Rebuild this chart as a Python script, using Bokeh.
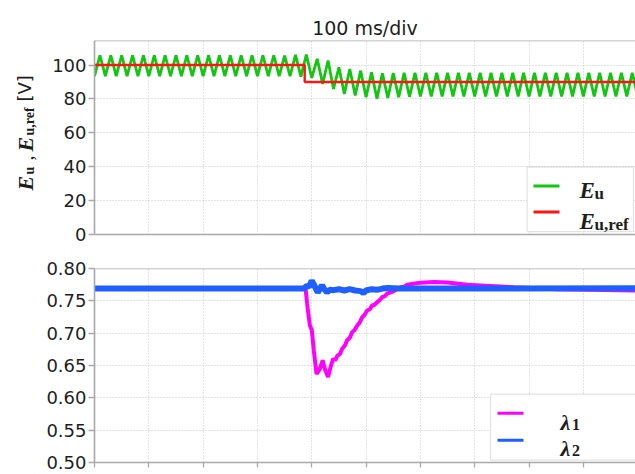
import numpy as np
from bokeh.plotting import figure
from bokeh.models import FixedTicker, NumeralTickFormatter, Label, BoxAnnotation, Span, Range1d
from bokeh.layouts import column, row
from bokeh.core.properties import value
from bokeh.embed import file_html
from bokeh.resources import INLINE

# ---------------- data ----------------
x_ticks = [0, 100, 200, 300, 400, 500, 600, 700, 800, 900, 1000]
top_yticks = [0, 20, 40, 60, 80, 100]
bot_yticks = [0.50, 0.55, 0.60, 0.65, 0.70, 0.75, 0.80]

# E_u: successive troughs / peaks of the 50 Hz ripple, one every 10 ms
eu_t = list(range(0, 1001, 10))
eu_v = [93.5, 105.8, 93.5, 105.8, 93.5, 105.8, 93.5, 105.8, 93.5, 105.8,
        93.5, 105.8, 93.5, 105.8, 93.5, 105.8, 93.5, 105.8, 93.5, 105.8,
        93.5, 105.8, 93.5, 105.8, 93.5, 105.8, 93.5, 105.8, 93.5, 105.8,
        93.5, 105.8, 93.5, 105.8, 93.5, 105.6, 93.4, 106.0,
        93.2, 106.2, 92.4, 103.7, 88.9, 102.7, 85.9, 98.7, 82.9, 97.7,
        82.0, 96.7, 81.0, 95.7, 80.2, 95.2, 80.6, 95.3, 81.0, 95.5, 81.3,
        95.5, 81.5, 95.5, 81.5, 95.5, 81.5, 95.5, 81.5, 95.5, 81.5, 95.5,
        81.5, 95.5, 81.5, 95.5, 81.5, 95.5, 81.5, 95.5, 81.5, 95.5, 81.5,
        95.5, 81.5, 95.5, 81.5, 95.5, 81.5, 95.5, 81.5, 95.5, 81.5, 95.5,
        81.5, 95.5, 81.5, 95.5, 81.5, 95.5, 81.5, 95.5, 81.5]

ref_t = [0, 387, 1000]
ref_v = [100, 90, 90]

l1_t = [0, 386, 389, 391.5, 394, 396.5, 400, 403.8, 408.8, 413, 416, 420, 424, 430,
        434.6, 439.5, 443, 447, 452, 456, 461, 465, 470, 474.5, 479, 483.7, 488,
        492.9, 497, 502, 507, 511, 516, 520.4, 525, 529.5, 534, 538.7, 545, 551,
        557, 563.5, 570, 575.7, 590, 600, 625, 650, 686, 720, 772, 850, 1000]
l1_v = [0.769, 0.769, 0.766, 0.745, 0.728, 0.712, 0.705, 0.673, 0.637, 0.642,
        0.6475, 0.658, 0.645, 0.632, 0.6475, 0.6605, 0.658, 0.665, 0.668, 0.676,
        0.681, 0.689, 0.693, 0.7016, 0.705, 0.712, 0.716, 0.7247, 0.728, 0.735,
        0.737, 0.7428, 0.744, 0.748, 0.751, 0.7556, 0.757, 0.761, 0.763, 0.765,
        0.768, 0.771, 0.772, 0.775, 0.777, 0.778, 0.7793, 0.7783, 0.775, 0.7735,
        0.771, 0.768, 0.766]

l2_t = [0, 385, 391, 395, 400, 404, 408, 411, 415, 419, 423, 428, 433, 440, 450,
        460, 470, 480, 490, 495, 500, 510, 520, 530, 540, 560, 1000]
l2_v = [0.769, 0.769, 0.773, 0.772, 0.781, 0.775, 0.768, 0.763, 0.769, 0.774,
        0.768, 0.763, 0.767, 0.7665, 0.768, 0.766, 0.768, 0.766, 0.765, 0.762,
        0.766, 0.768, 0.767, 0.769, 0.770, 0.769, 0.7695]

# ---------------- styling ----------------
LBL_W = 40          # width of the strip holding the rotated y label
W = 635 - LBL_W
X_END = 996
GRID = "#c6c6c6"
AX = "#a9a9a9"
TXT = "#1e1e1e"
SANS = "DejaVu Sans"
SERIF = "Liberation Serif"
GREEN = "#12c612"
RED = "#ff1414"
MAGENTA = "#ff00ff"
BLUE = "#1f5fff"


def style(p, yticks):
    p.outline_line_color = None
    p.background_fill_color = "white"
    p.border_fill_color = "white"
    p.xaxis.ticker = FixedTicker(ticks=x_ticks)
    p.yaxis.ticker = FixedTicker(ticks=yticks)
    for g in (p.xgrid, p.ygrid):
        g.grid_line_color = GRID
        g.grid_line_dash = "1 2"
        g.grid_line_width = 1
    ax = p.yaxis[0]
    ax.axis_line_color = AX
    ax.axis_line_width = 1.6
    ax.major_tick_line_color = AX
    ax.major_tick_line_width = 1.3
    ax.major_tick_out = 6
    ax.major_tick_in = 0
    ax.minor_tick_line_color = None
    ax.major_label_standoff = 2
    ax.major_label_text_font = SANS
    ax.major_label_text_font_size = "18px"
    ax.major_label_text_color = TXT
    xa = p.xaxis[0]
    xa.axis_line_color = AX
    xa.axis_line_width = 1.6
    xa.minor_tick_line_color = None
    xa.major_label_text_font_size = "0px"
    xa.major_label_text_color = None
    xa.major_label_standoff = 0
    p.add_layout(Span(location=p.y_range.end, dimension="width",
                      line_color=AX, line_width=1.6))


def lab(p, x, y, text, font, size, style_, color=TXT):
    p.add_layout(Label(x=x, y=y, x_units="screen", y_units="screen", text=text,
                       text_font=font, text_font_size=size, text_font_style=style_,
                       text_color=color, text_align="left", text_baseline="alphabetic"))


def swatch(p, left, bottom, color):
    p.add_layout(BoxAnnotation(left=left, right=left + 26, bottom=bottom, top=bottom + 3,
                               left_units="screen", right_units="screen",
                               bottom_units="screen", top_units="screen",
                               fill_color=color, fill_alpha=1.0, line_color=None))


def legend_box(p, left, right, bottom, top):
    p.add_layout(BoxAnnotation(left=left, right=right, bottom=bottom, top=top,
                               left_units="screen", right_units="screen",
                               bottom_units="screen", top_units="screen",
                               fill_color="white", fill_alpha=1.0,
                               line_color="#a6a6a6", line_width=1.3))


FL = 94 - LBL_W     # left border inside each panel figure

# ---------------- top panel ----------------
p1 = figure(width=W, height=250, x_range=Range1d(0, X_END), y_range=Range1d(0, 114.5),
            output_backend="svg", toolbar_location=None, title="100 ms/div",
            min_border_left=FL, min_border_right=0, min_border_top=40, min_border_bottom=16)
style(p1, top_yticks)
p1.title.align = "center"
p1.title.text_font = SANS
p1.title.text_font_size = "19px"
p1.title.text_font_style = "normal"
p1.title.text_color = TXT
p1.title.standoff = 4
p1.xaxis.major_tick_out = 0
p1.xaxis.major_tick_in = 0
p1.line(eu_t, eu_v, line_color=GREEN, line_width=2.8)
p1.step(ref_t, ref_v, mode="after", line_color=RED, line_width=2.4)

legend_box(p1, 432.7, 539, 2.8, 67.5)
swatch(p1, 439, 47, GREEN)
swatch(p1, 439, 21, RED)
lab(p1, 485, 44.5, "E", SERIF, "23px", "bold italic")
lab(p1, 500, 41.5, "u", SERIF, "17px", "bold")
lab(p1, 485, 13.5, "E", SERIF, "23px", "bold italic")
lab(p1, 500, 10.5, "u,ref", SERIF, "17px", "bold")

# ---------------- bottom panel ----------------
p2 = figure(width=W, height=224, x_range=Range1d(0, X_END), y_range=Range1d(0.5, 0.8),
            output_backend="svg", toolbar_location=None,
            min_border_left=FL, min_border_right=0, min_border_top=18, min_border_bottom=12)
style(p2, bot_yticks)
p2.yaxis.formatter = NumeralTickFormatter(format="0.00")
p2.xaxis.major_tick_out = 5
p2.xaxis.major_tick_in = 0
p2.xaxis.major_tick_line_color = AX
p2.xaxis.major_tick_line_width = 1.3
p2.line(l1_t, l1_v, line_color=MAGENTA, line_width=4)
p2.line(l2_t, l2_v, line_color=BLUE, line_width=6)

legend_box(p2, 396, 546, 2.3, 68.3)
swatch(p2, 403, 47.8, MAGENTA)
swatch(p2, 403, 20.8, BLUE)
lab(p2, 466, 40.3, "λ", SERIF, "22px", "bold italic")
lab(p2, 477.5, 38.3, "1", SERIF, "16px", "bold")
lab(p2, 466, 14.3, "λ", SERIF, "22px", "bold italic")
lab(p2, 477.5, 12.3, "2", SERIF, "16px", "bold")

# ---------------- rotated y label strip (pixel coordinates) ----------------
H = 474
yl = figure(width=LBL_W, height=H, x_range=Range1d(0, LBL_W), y_range=Range1d(0, H),
            output_backend="svg", toolbar_location=None, min_border=0)
yl.axis.visible = False
yl.grid.visible = False
yl.outline_line_color = None
R = np.pi / 2


def ytext(x, ytop, text, font, size, style_):
    yl.text(x=[x], y=[H - ytop], text=[text], angle=R, text_font=value(font),
            text_font_size=value(size), text_font_style=style_, text_color=TXT,
            text_align="left", text_baseline="alphabetic")


ytext(25, 190, "E", SERIF, "22px", "bold italic")
ytext(28.5, 174, "u", SERIF, "14px", "bold")
ytext(25, 160, ",", SERIF, "20px", "normal")
ytext(25, 151, "E", SERIF, "22px", "bold italic")
ytext(28.5, 135, "u,ref", SERIF, "14px", "bold")
ytext(24, 101, "[V]", SANS, "18px", "normal")

layout = row(yl, column(p1, p2, spacing=0), spacing=0)
open("out.html", "w").write(file_html(layout, INLINE))
